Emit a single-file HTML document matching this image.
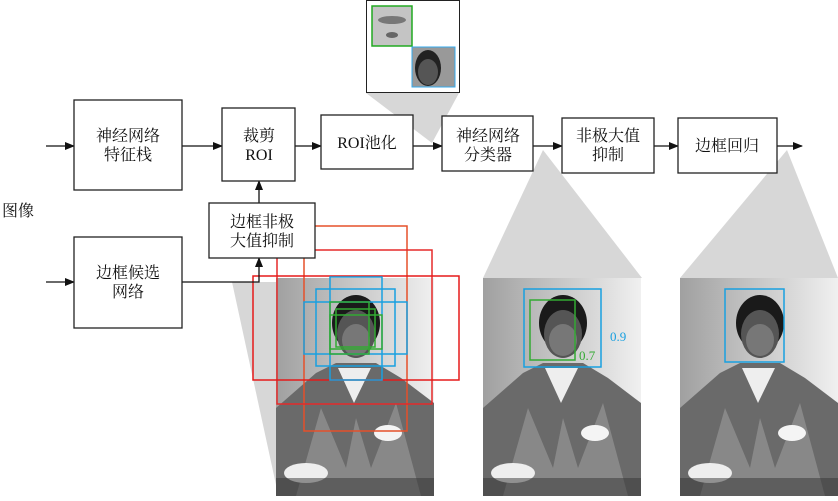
<!DOCTYPE html>
<html><head><meta charset="utf-8"><style>
body{margin:0;background:#fff}
text{font-family:"Liberation Serif","Noto Serif CJK SC",serif;font-size:16px;fill:#111}
</style></head><body>
<svg width="838" height="496" viewBox="0 0 838 496" xmlns="http://www.w3.org/2000/svg">
<defs>
<marker id="a" markerWidth="10" markerHeight="8" refX="9" refY="4" orient="auto" markerUnits="userSpaceOnUse"><path d="M0,0L10,4L0,8z" fill="#111"/></marker>
<linearGradient id="bg" x1="0" y1="0" x2="1" y2="0"><stop offset="0" stop-color="#a0a0a0"/><stop offset=".6" stop-color="#d0d0d0"/><stop offset="1" stop-color="#f0f0f0"/></linearGradient>
<g id="ph">
<rect width="158" height="218" fill="url(#bg)"/>
<path d="M0,130 L40,95 L60,85 L100,85 L125,100 L158,125 L158,218 L0,218z" fill="#6a6a6a"/>
<path d="M20,218 L45,130 L70,190 L80,140 L95,190 L120,125 L145,218z" fill="#888"/>
<path d="M62,90 L78,125 L95,90z" fill="#eee"/>
<ellipse cx="80" cy="45" rx="24" ry="28" fill="#1a1a1a"/>
<ellipse cx="80" cy="56" rx="19" ry="24" fill="#555"/>
<ellipse cx="80" cy="62" rx="14" ry="16" fill="#777"/>
<ellipse cx="112" cy="155" rx="14" ry="8" fill="#f4f4f4"/>
<ellipse cx="30" cy="195" rx="22" ry="10" fill="#eee"/>
<rect x="0" y="200" width="158" height="18" fill="#333" opacity=".5"/>
</g>
</defs>
<polygon points="366,93 459,93 432,143" fill="#d7d7d7"/>
<polygon points="232,282 278,282 278,494" fill="#d7d7d7"/>
<polygon points="543,150 483,278 642,278" fill="#d7d7d7"/>
<polygon points="787,150 680,278 838,278" fill="#d7d7d7"/>
<use href="#ph" x="276" y="278"/>
<use href="#ph" x="483" y="278"/>
<use href="#ph" x="680" y="278"/>
<rect x="366.5" y="0.5" width="93" height="92" fill="#fff" stroke="#222"/>
<rect x="372" y="6" width="40" height="40" fill="#c4c4c4" stroke="#2a2" stroke-width="1.5"/>
<ellipse cx="392" cy="20" rx="14" ry="4" fill="#777"/><ellipse cx="392" cy="35" rx="6" ry="3" fill="#666"/>
<rect x="412" y="47" width="43" height="40" fill="#999" stroke="#3ae" stroke-width="1"/>
<ellipse cx="428" cy="68" rx="13" ry="18" fill="#222"/><ellipse cx="428" cy="72" rx="10" ry="13" fill="#555"/>
<g fill="none" stroke-width="1.5">
<rect x="304" y="226" width="103" height="205" stroke="#e5502a"/>
<rect x="277" y="250" width="155" height="154" stroke="#e52a2a"/>
<rect x="253" y="276" width="206" height="104" stroke="#e51a1a"/>
<rect x="330" y="277" width="52" height="103" stroke="#18a0e0"/>
<rect x="316" y="289" width="79" height="77" stroke="#18a0e0"/>
<rect x="304" y="302" width="103" height="52" stroke="#18a0e0"/>
<rect x="330" y="302" width="39" height="52" stroke="#3a3"/>
<rect x="336" y="309" width="39" height="38" stroke="#3a3"/>
<rect x="330" y="315" width="52" height="34" stroke="#3a3"/>
<rect x="524" y="289" width="77" height="78" stroke="#18a0e0"/>
<rect x="530" y="300" width="45" height="60" stroke="#3a3"/>
<rect x="725" y="289" width="59" height="73" stroke="#18a0e0"/>
</g>
<text x="610" y="341" style="font-size:13px;fill:#18a0e0">0.9</text>
<text x="579" y="360" style="font-size:13px;fill:#3a3">0.7</text>
<g stroke="#111" stroke-width="1.3" fill="none">
<line x1="46" y1="146" x2="74" y2="146" marker-end="url(#a)"/>
<line x1="182" y1="146" x2="222" y2="146" marker-end="url(#a)"/>
<line x1="295" y1="146" x2="321" y2="146" marker-end="url(#a)"/>
<line x1="413" y1="146" x2="442" y2="146" marker-end="url(#a)"/>
<line x1="533" y1="146" x2="562" y2="146" marker-end="url(#a)"/>
<line x1="654" y1="146" x2="678" y2="146" marker-end="url(#a)"/>
<line x1="777" y1="146" x2="802" y2="146" marker-end="url(#a)"/>
<line x1="46" y1="282" x2="74" y2="282" marker-end="url(#a)"/>
<polyline points="182,282 259,282 259,258" marker-end="url(#a)"/>
<line x1="259" y1="203" x2="259" y2="181" marker-end="url(#a)"/>
</g>
<g fill="#fff" stroke="#222" stroke-width="1.3">
<rect x="74" y="100" width="108" height="90"/>
<rect x="222" y="108" width="73" height="73"/>
<rect x="321" y="115" width="92" height="54"/>
<rect x="442" y="116" width="91" height="55"/>
<rect x="562" y="118" width="92" height="55"/>
<rect x="678" y="118" width="99" height="55"/>
<rect x="209" y="203" width="106" height="55"/>
<rect x="74" y="237" width="108" height="91"/>
</g>
<g text-anchor="middle">
<text x="128" y="141">神经网络</text><text x="128" y="160">特征栈</text>
<text x="259" y="141">裁剪</text><text x="259" y="160">ROI</text>
<text x="367" y="148">ROI池化</text>
<text x="488" y="141">神经网络</text><text x="488" y="160">分类器</text>
<text x="608" y="141">非极大值</text><text x="608" y="160">抑制</text>
<text x="727" y="151">边框回归</text>
<text x="262" y="227">边框非极</text><text x="262" y="246">大值抑制</text>
<text x="128" y="278">边框候选</text><text x="128" y="297">网络</text>
</g>
<text x="2" y="216">图像</text>
</svg>
</body></html>
